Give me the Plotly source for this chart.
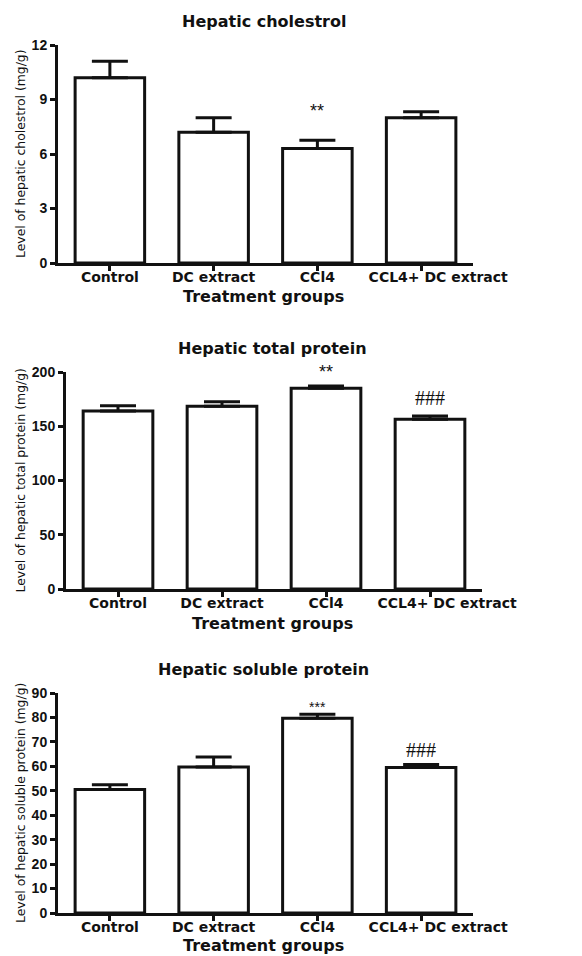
import plotly.graph_objects as go

categories = ["Control", "DC extract", "CCl4", "\u00a0" * 7 + "CCL4+ DC extract"]

chol_mean = [10.2, 7.2, 6.3, 8.0]
chol_err = [0.9, 0.8, 0.45, 0.32]
chol_sig = ["", "", "**", ""]

tp_mean = [164, 168.5, 185, 156.5]
tp_err = [5, 4, 2, 3]
tp_sig = ["", "", "**", "###"]

sp_mean = [50.5, 59.7, 79.7, 59.5]
sp_err = [2.0, 4.1, 1.6, 1.2]
sp_sig = ["", "", "***", "###"]

titles = ["Hepatic cholestrol", "Hepatic total protein", "Hepatic soluble protein"]
ytitles = ["Level of hepatic cholestrol (mg/g)",
           "Level of hepatic total protein (mg/g)",
           "Level of hepatic soluble protein (mg/g)"]
y_ticks = [[0, 3, 6, 9, 12], [0, 50, 100, 150, 200], [0, 10, 20, 30, 40, 50, 60, 70, 80, 90]]
y_max = [12, 200, 90]

# page is offset by the default 8px body margin
OFF = 8
W, H = 582 - 2 * OFF, 956 - OFF
SANS = "Liberation Sans, Arial, sans-serif"
WIDE = "DejaVu Sans, Verdana, sans-serif"
SERIF = "Liberation Serif, Times New Roman, serif"
INK = "#111111"

# reference pixel geometry of each panel: (x0, x1, ytop, ybottom)
panels = [(58, 473, 45, 263), (66, 482, 372, 589), (58, 473, 693, 913)]
xtitle_gap = [33, 34, 32]
sig_shift = [[0, 0, 29, 0], [0, 0, 14, 18], [0, 0, 7, 15]]


def px(x):
    return (x - OFF) / W


def py(y):
    return 1 - (y - OFF) / H


means = [chol_mean, tp_mean, sp_mean]
errs = [chol_err, tp_err, sp_err]
sigs = [chol_sig, tp_sig, sp_sig]

fig = go.Figure()
layout = dict(width=W, height=H, margin=dict(l=0, r=0, t=0, b=0, pad=0),
              template="none",
              plot_bgcolor="white", paper_bgcolor="white", showlegend=False,
              font=dict(family=SANS, color=INK))
annotations = []
xs = list(range(len(categories)))

for i in range(3):
    x0, x1, yt, yb = panels[i]
    sfx = "" if i == 0 else str(i + 1)
    fig.add_trace(go.Bar(
        x=xs, y=means[i], width=0.67,
        marker=dict(color="white", line=dict(color=INK, width=3)),
        error_y=dict(type="data", symmetric=False, array=errs[i],
                     arrayminus=[0] * 4, color=INK, thickness=3, width=18),
        xaxis="x" + sfx, yaxis="y" + sfx, hoverinfo="skip"))
    layout["xaxis" + sfx] = dict(
        domain=[px(x0), px(x1)], anchor="y" + sfx, range=[-0.5, 3.5],
        automargin=False, tickangle=0,
        tickvals=xs, ticktext=categories, ticks="outside", ticklen=5,
        tickwidth=3, tickcolor=INK, showline=True, linecolor=INK, linewidth=3,
        showgrid=False, zeroline=False, ticklabelstandoff=-6,
        tickfont=dict(size=14, weight="bold", family=WIDE, color=INK))
    layout["yaxis" + sfx] = dict(
        domain=[py(yb), py(yt)], anchor="x" + sfx, range=[0, y_max[i]],
        automargin=False,
        tickvals=y_ticks[i], ticks="outside", ticklen=5, tickwidth=3,
        tickcolor=INK, showline=True, linecolor=INK, linewidth=3,
        showgrid=False, zeroline=False,
        tickfont=dict(size=14, weight="bold", family=SANS, color=INK))
    cx = (x0 + x1) / 2 - 2
    annotations.append(dict(text="<b>" + titles[i] + "</b>", xref="paper", yref="paper",
                            x=px(cx), y=py(yt - 24), showarrow=False,
                            font=dict(size=16, family=WIDE, color=INK),
                            xanchor="center", yanchor="middle"))
    annotations.append(dict(text="<b>Treatment groups</b>", xref="paper", yref="paper",
                            x=px(cx), y=py(yb + xtitle_gap[i]), showarrow=False,
                            font=dict(size=16, family=WIDE, color=INK),
                            xanchor="center", yanchor="middle"))
    annotations.append(dict(text=ytitles[i], xref="paper", yref="paper",
                            x=px(20), y=py((yt + yb) / 2), showarrow=False,
                            textangle=-90, font=dict(size=12.4, family=WIDE, color=INK),
                            xanchor="center", yanchor="middle"))
    for j, s in enumerate(sigs[i]):
        if s:
            star = s.startswith("*")
            annotations.append(dict(
                text=s, x=xs[j], y=means[i][j] + errs[i][j],
                xref="x" + sfx, yref="y" + sfx, showarrow=False,
                yanchor="middle", yshift=sig_shift[i][j],
                font=dict(size=(18 if len(s) == 2 else 14) if star else 20,
                          family=SANS if star else SERIF, color=INK)))

layout["annotations"] = annotations
fig.update_layout(**layout)
fig.write_html("out.html")
